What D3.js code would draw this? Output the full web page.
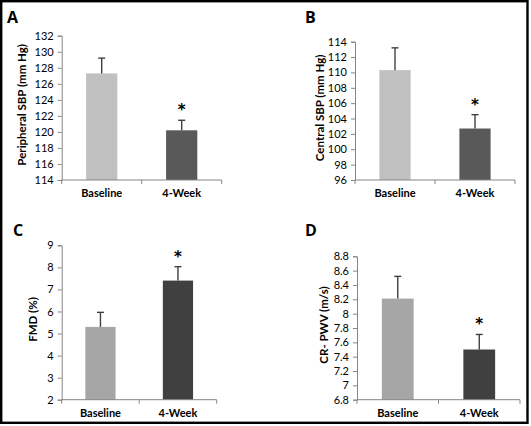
<!DOCTYPE html>
<html>
<head>
<meta charset="utf-8">
<script src="https://cdn.jsdelivr.net/npm/d3@7"></script>
<style>
  html, body { margin: 0; padding: 0; background: #fff; }
  svg { display: block; }
  text { font-family: Lato, "Open Sans", sans-serif; }
</style>
</head>
<body>
<svg id="chart" width="531" height="426"></svg>
<script>
// ---- data ----
const categories = ["Baseline", "4-Week"];

const peripheralSBP = [127.3, 120.2];
const peripheralSBPErr = [1.9, 1.25];
const peripheralTicks = [114, 116, 118, 120, 122, 124, 126, 128, 130, 132];

const centralSBP = [110.3, 102.7];
const centralSBPErr = [2.9, 1.8];
const centralTicks = [96, 98, 100, 102, 104, 106, 108, 110, 112, 114];

const fmdValues = [5.3, 7.4];
const fmdErr = [0.66, 0.63];
const fmdTicks = [2, 3, 4, 5, 6, 7, 8, 9];

const pwvValues = [8.21, 7.5];
const pwvErr = [0.31, 0.21];
const pwvTicks = [6.8, 7, 7.2, 7.4, 7.6, 7.8, 8, 8.2, 8.4, 8.6, 8.8];

const significant = [false, true];

// ---- layout ----
const svg = d3.select("#chart");

svg.append("rect")
  .attr("x", 1.2).attr("y", 1.2)
  .attr("width", 526.3).attr("height", 421.6)
  .attr("fill", "none").attr("stroke", "#000").attr("stroke-width", 2.4);

const panels = [
  { letter: "A", lx: 7, ly: 23, title: "Peripheral SBP (mm Hg)", tx: 22,
    x0: 61.7, x1: 221.7, yTop: 35.7, yBot: 180,
    values: peripheralSBP, errs: peripheralSBPErr, ticks: peripheralTicks,
    colors: ["#c0c0c0", "#595959"] },
  { letter: "B", lx: 305, ly: 23, title: "Central SBP (mm Hg)", tx: 320,
    x0: 355, x1: 515, yTop: 41.7, yBot: 180,
    values: centralSBP, errs: centralSBPErr, ticks: centralTicks,
    colors: ["#c0c0c0", "#595959"] },
  { letter: "C", lx: 13, ly: 236, title: "FMD (%)", tx: 33,
    x0: 61.7, x1: 216.7, yTop: 245.3, yBot: 399.7,
    values: fmdValues, errs: fmdErr, ticks: fmdTicks,
    colors: ["#a6a6a6", "#404040"] },
  { letter: "D", lx: 305, ly: 236, title: "CR- PWV (m/s)", tx: 324,
    x0: 357, x1: 520, yTop: 256.3, yBot: 399.7,
    values: pwvValues, errs: pwvErr, ticks: pwvTicks,
    colors: ["#a6a6a6", "#404040"] }
];

const fmt = d => String(+d.toFixed(2));

panels.forEach(p => {
  const g = svg.append("g");
  const x = d3.scaleBand().domain(categories).range([p.x0, p.x1])
    .paddingInner(0.61).paddingOuter(0.305);
  const y = d3.scaleLinear()
    .domain([p.ticks[0], p.ticks[p.ticks.length - 1]])
    .range([p.yBot, p.yTop]);

  // panel letter
  g.append("text").attr("x", p.lx).attr("y", p.ly)
    .attr("font-size", 16).attr("font-weight", "bold")
    .style("font-family", "'Open Sans', sans-serif")
    .attr("fill", "#000").text(p.letter);

  // bars
  g.selectAll("rect.bar").data(categories).join("rect")
    .attr("class", "bar")
    .attr("x", d => x(d))
    .attr("width", x.bandwidth())
    .attr("y", (d, i) => y(p.values[i]))
    .attr("height", (d, i) => p.yBot - y(p.values[i]))
    .attr("fill", (d, i) => p.colors[i]);

  // error bars (upper only)
  const cap = 3.5;
  categories.forEach((c, i) => {
    const cx = x(c) + x.bandwidth() / 2;
    const yv = y(p.values[i]);
    const ye = y(p.values[i] + p.errs[i]);
    g.append("line").attr("x1", cx).attr("x2", cx)
      .attr("y1", yv).attr("y2", ye)
      .attr("stroke", "#404040").attr("stroke-width", 1.4);
    g.append("line").attr("x1", cx - cap).attr("x2", cx + cap)
      .attr("y1", ye).attr("y2", ye)
      .attr("stroke", "#404040").attr("stroke-width", 1.4);
    if (significant[i]) {
      g.append("text").attr("x", cx).attr("y", ye - 5)
        .attr("text-anchor", "middle").attr("font-size", 15)
        .attr("font-weight", "bold").attr("fill", "#000")
        .style("font-family", "'DejaVu Sans', sans-serif")
        .text("*");
    }
  });

  // y axis
  const yAxis = d3.axisLeft(y).tickValues(p.ticks).tickFormat(fmt)
    .tickSize(4).tickPadding(4);
  const ya = g.append("g").attr("transform", `translate(${p.x0},0)`).call(yAxis);
  ya.select(".domain").attr("stroke", "#868686").attr("stroke-width", 1);
  ya.selectAll(".tick line").attr("stroke", "#868686");
  ya.selectAll(".tick text").attr("font-size", 11).attr("fill", "#000")
    .style("font-family", "Lato, sans-serif");

  // x axis
  const xa = g.append("g").attr("transform", `translate(0,${p.yBot})`);
  xa.append("line").attr("x1", p.x0).attr("x2", p.x1)
    .attr("y1", 0).attr("y2", 0)
    .attr("stroke", "#868686").attr("stroke-width", 1);
  const step = x.step();
  const bounds = [p.x0, p.x0 + step, p.x1];
  xa.selectAll("line.t").data(bounds).join("line").attr("class", "t")
    .attr("x1", d => d).attr("x2", d => d).attr("y1", 0).attr("y2", 4)
    .attr("stroke", "#868686");
  xa.selectAll("text.cat").data(categories).join("text").attr("class", "cat")
    .attr("x", d => x(d) + x.bandwidth() / 2)
    .attr("y", 17)
    .attr("text-anchor", "middle")
    .attr("font-size", 11).attr("font-weight", "bold").attr("fill", "#000")
    .text(d => d);

  // y title
  const cy = (p.yTop + p.yBot) / 2 - 3;
  g.append("text")
    .attr("transform", `translate(${p.tx},${cy}) rotate(-90)`)
    .attr("text-anchor", "middle").attr("dy", "0.35em")
    .attr("font-size", 11.5).attr("font-weight", "bold").attr("fill", "#000")
    .text(p.title);
});
</script>
</body>
</html>
